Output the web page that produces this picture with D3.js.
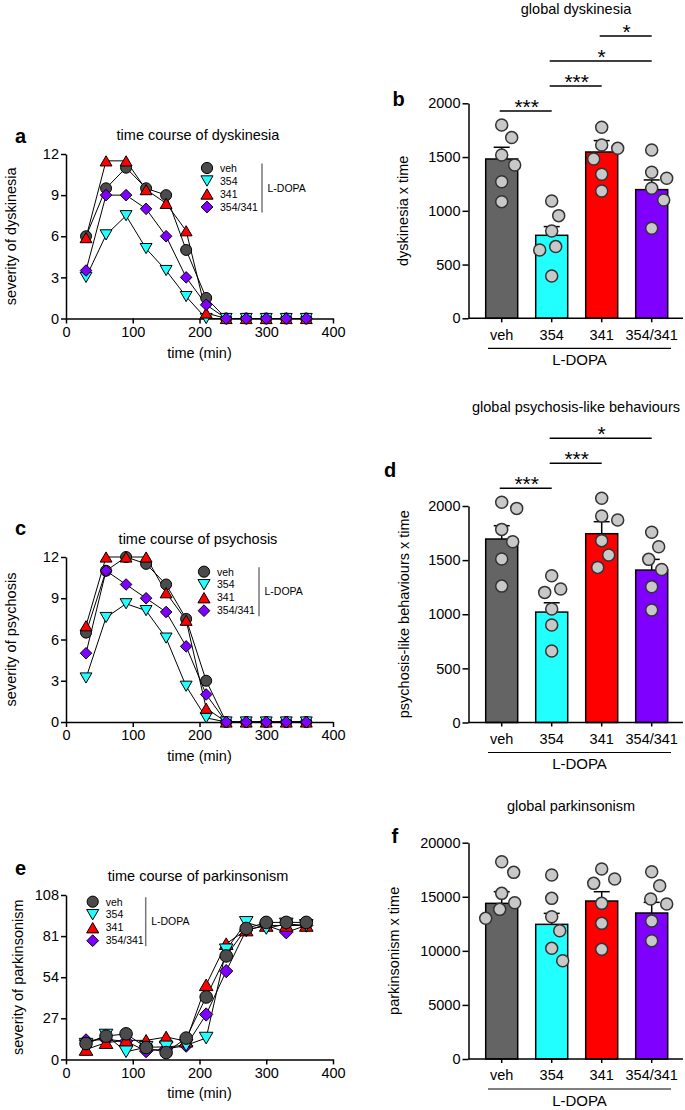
<!DOCTYPE html>
<html>
<head>
<meta charset="utf-8">
<script src="https://cdn.jsdelivr.net/npm/d3@7"></script>
<style>
  body { margin: 0; background: #fff; }
  svg { display: block; font-family: Arial, "Liberation Sans", Helvetica, sans-serif; }
  .axis path, .axis line { stroke: #000; stroke-width: 1.5; }
  .axis text { font-size: 14.5px; fill: #000; font-family: Arial, "Liberation Sans", sans-serif; }
</style>
</head>
<body>
<div id="chart"></div>
<script>
// treatment groups (all on L-DOPA)
const groups = ["veh", "354", "341", "354/341"];
const times = [30, 60, 90, 120, 150, 180, 210, 240, 270, 300, 330, 360];

// time course of dyskinesia
const dyskVeh = [6, 9.5, 11, 9.5, 9, 5, 1.5, 0, 0, 0, 0, 0];
const dysk354 = [3, 6.1, 7.5, 5.1, 3.5, 1.6, 0, 0, 0, 0, 0, 0];
const dysk341 = [5.9, 11.5, 11.5, 9.4, 8.4, 6.4, 0.4, 0, 0, 0, 0, 0];
const dyskCombo = [3.5, 9, 9, 8, 6, 3, 1, 0, 0, 0, 0, 0];

// time course of psychosis
const psyVeh = [6.5, 11, 12, 11.5, 10, 7.5, 3, 0, 0, 0, 0, 0];
const psy354 = [3.2, 7.6, 8.6, 8.1, 6.1, 2.6, 0.3, 0, 0, 0, 0, 0];
const psy341 = [7, 12, 12, 12, 9.4, 7.4, 1, 0, 0, 0, 0, 0];
const psyCombo = [5, 11, 10, 9, 8, 5.5, 2, 0, 0, 0, 0, 0];

// time course of parkinsonism
const parkVeh = [10.4, 15.3, 16.8, 7.8, 4.5, 14, 41, 68, 86, 90, 90, 90];
const park354 = [10, 16, 5, 8, 8.2, 9.3, 14, 72, 90, 86, 89, 88];
const park341 = [6.5, 11, 12.5, 12.5, 14.7, 12, 49, 76, 85, 88, 88, 88];
const parkCombo = [12.5, 13, 12, 5.4, 7, 9, 29.5, 58, 85, 88, 83.5, 88];

// global scores: mean, SEM and individual animals
const dyskMean = [1482, 772, 1547, 1197];
const dyskSem = [109, 81, 106, 90];
const dyskPoints = [
  [1798, 1681, 1519, 1426, 1271, 1085],
  [1091, 955, 812, 667, 636, 394],
  [1777, 1612, 1581, 1482, 1340, 1184],
  [1566, 1358, 1302, 1209, 1101, 837]
];
const dyskSig = [["veh", "354", "***"], ["354", "341", "***"], ["354", "354/341", "*"], ["341", "354/341", "*"]];

const psyMean = [1695, 1020, 1744, 1408];
const psySem = [123, 86, 111, 99];
const psyPoints = [
  [2034, 1978, 1784, 1670, 1510, 1260],
  [1356, 1233, 1202, 1048, 900, 660],
  [2071, 1908, 1871, 1680, 1547, 1433],
  [1757, 1624, 1507, 1414, 1254, 1039]
];
const psySig = [["veh", "354", "***"], ["354", "341", "***"], ["354", "354/341", "*"]];

const parkMean = [14392, 12450, 14607, 13498];
const parkSem = [1078, 1017, 863, 986];
const parkPoints = [
  [18243, 17257, 15316, 14453, 13837, 13005],
  [17010, 14853, 13159, 11864, 10231, 9091],
  [17565, 16641, 16240, 14391, 12542, 10139],
  [17319, 16025, 14792, 14330, 12758, 10940]
];
const parkSig = [];

// styles
const markerFill = ["#4b4b4b", "#22ffff", "#ff0000", "#7f00ff"];
const barFill = ["#646464", "#22ffff", "#ff0000", "#7f00ff"];
const markerType = ["circle", "down", "up", "diamond"];

const svg = d3.select("#chart").append("svg")
  .attr("width", 685)
  .attr("height", 1110);

// draw one marker shape at (0,0)
function marker(g, type, fill, r) {
  if (type === "circle") {
    g.append("circle").attr("r", r);
  } else if (type === "down") {
    const w = r * 1.08, h = r * 1.85;
    g.append("path").attr("d", `M${-w},${-h / 2}L${w},${-h / 2}L0,${h / 2}Z`);
  } else if (type === "up") {
    const w = r * 1.08, h = r * 1.85;
    g.append("path").attr("d", `M${-w},${h / 2}L${w},${h / 2}L0,${-h / 2}Z`);
  } else {
    const s = r * 1.05;
    g.append("path").attr("d", `M0,${-s}L${s},0L0,${s}L${-s},0Z`);
  }
  g.selectAll("circle,path").attr("fill", fill).attr("stroke", "#000").attr("stroke-width", 1);
}

function panelLetter(letter, x, y) {
  svg.append("text").attr("x", x).attr("y", y)
    .attr("font-size", 20).attr("font-weight", "bold").text(letter);
}

function yLabel(txt, x, yc, size) {
  svg.append("text")
    .attr("transform", `translate(${x},${yc}) rotate(-90)`)
    .attr("text-anchor", "middle")
    .attr("font-size", size || 14.5)
    .text(txt);
}

// time course panels
function linePanel(cfg) {
  const g = svg.append("g");
  const x = d3.scaleLinear().domain([0, 400]).range([66, 333]);
  const y = d3.scaleLinear().domain([0, cfg.yMax]).range([cfg.y0, cfg.y1]);

  g.append("g").attr("class", "axis").attr("transform", `translate(0,${cfg.y0})`)
    .call(d3.axisBottom(x).tickValues([0, 100, 200, 300, 400]).tickFormat(d3.format("d"))
      .tickSize(5).tickPadding(3).tickSizeOuter(0));
  g.append("g").attr("class", "axis").attr("transform", "translate(66,0)")
    .call(d3.axisLeft(y).tickValues(cfg.ticks).tickFormat(d3.format("d"))
      .tickSize(5).tickPadding(2).tickSizeOuter(0));

  const line = d3.line().x((d, j) => x(times[j])).y(d => y(d));
  cfg.order.forEach(i => {
    g.append("path").datum(cfg.series[i]).attr("d", line)
      .attr("fill", "none").attr("stroke", "#000").attr("stroke-width", 1);
  });
  cfg.order.forEach(i => {
    cfg.series[i].forEach((v, j) => {
      const m = g.append("g").attr("transform", `translate(${x(times[j])},${y(v)})`);
      marker(m, markerType[i], markerFill[i], cfg.r);
    });
  });

  // title and labels
  svg.append("text").attr("x", 198).attr("y", cfg.titleY).attr("text-anchor", "middle")
    .attr("font-size", 14.5).text(cfg.title);
  svg.append("text").attr("x", 199.5).attr("y", cfg.y0 + 39).attr("text-anchor", "middle")
    .attr("font-size", 14.5).text("time (min)");
  yLabel(cfg.ylabel, cfg.ylabelX, (cfg.y0 + cfg.y1) / 2);
  panelLetter(cfg.letter, 15, cfg.letterY);

  // legend
  const lg = svg.append("g").attr("transform", `translate(${cfg.legX},${cfg.legY})`);
  groups.forEach((name, i) => {
    const m = lg.append("g").attr("transform", `translate(0,${i * 13})`);
    marker(m, markerType[i], markerFill[i], 5.6);
    lg.append("text").attr("x", 13).attr("y", i * 13 + 3.8)
      .attr("font-size", 10.5).text(name);
  });
  lg.append("line").attr("x1", cfg.legLine).attr("x2", cfg.legLine)
    .attr("y1", -4.5).attr("y2", 44.5).attr("stroke", "#777").attr("stroke-width", 1.5);
  lg.append("text").attr("x", cfg.legLine + 5.5).attr("y", 23.5)
    .attr("font-size", 10.5).text("L-DOPA");
}

// spread the dots of one bar so they do not overlap
function swarm(vals, y, r) {
  const placed = [];
  const pts = vals.map(v => ({ v, py: y(v), dx: 0 })).sort((a, b) => a.py - b.py);
  pts.forEach(p => {
    for (let k = 0; k < 60; k++) {
      const dx = k === 0 ? 0 : (k % 2 ? 1 : -1) * Math.ceil(k / 2);
      if (placed.every(q => Math.hypot(q.dx - dx, q.py - p.py) >= 2 * r + 4)) { p.dx = dx; break; }
    }
    placed.push(p);
  });
  return pts;
}

// global score panels
function barPanel(cfg) {
  const g = svg.append("g");
  const x = d3.scaleBand().domain(groups).range([476.7, 676.7]).paddingInner(0.36).paddingOuter(0.18);
  const y = d3.scaleLinear().domain([0, cfg.yMax]).range([cfg.y0, cfg.y1]);
  const bw = x.bandwidth();

  g.selectAll("rect.bar").data(groups).join("rect").attr("class", "bar")
    .attr("x", d => x(d)).attr("width", bw)
    .attr("y", (d, i) => y(cfg.mean[i])).attr("height", (d, i) => cfg.y0 - y(cfg.mean[i]))
    .attr("fill", (d, i) => barFill[i]).attr("stroke", "#000").attr("stroke-width", 1.5);

  // error bars, upper half only
  groups.forEach((d, i) => {
    const cx = x(d) + bw / 2;
    const top = y(cfg.mean[i] + cfg.sem[i]);
    g.append("line").attr("x1", cx).attr("x2", cx).attr("y1", y(cfg.mean[i])).attr("y2", top)
      .attr("stroke", "#000").attr("stroke-width", 1.5);
    g.append("line").attr("x1", cx - 8).attr("x2", cx + 8).attr("y1", top).attr("y2", top)
      .attr("stroke", "#000").attr("stroke-width", 1.5);
  });

  // axes
  g.append("g").attr("class", "axis").attr("transform", "translate(468.5,0)")
    .call(d3.axisLeft(y).tickValues(cfg.ticks).tickFormat(d3.format("d"))
      .tickSize(6).tickPadding(2).tickSizeOuter(0));
  const xa = g.append("g").attr("class", "axis").attr("transform", `translate(0,${cfg.y0})`)
    .call(d3.axisBottom(x).tickSize(4).tickPadding(7).tickSizeOuter(0));
  xa.select(".domain").remove();
  xa.append("line").attr("x1", 468.5).attr("x2", 683).attr("stroke", "#000").attr("stroke-width", 1.5);
  xa.selectAll("text").attr("font-size", 15);

  // individual animals
  const r = 6;
  groups.forEach((d, i) => {
    const cx = x(d) + bw / 2;
    swarm(cfg.points[i], y, r).forEach(p => {
      g.append("circle").attr("cx", cx + p.dx).attr("cy", p.py).attr("r", r)
        .attr("fill", "#c8c8c8").attr("stroke", "#333").attr("stroke-width", 1.5);
    });
  });

  // L-DOPA bracket
  const lx0 = x(groups[0]) + 2.3, lx1 = x(groups[3]) + bw + 3.3;
  g.append("line").attr("x1", lx0).attr("x2", lx1).attr("y1", cfg.y0 + 30).attr("y2", cfg.y0 + 30)
    .attr("stroke", "#000").attr("stroke-width", 1.2);
  g.append("text").attr("x", (lx0 + lx1) / 2).attr("y", cfg.y0 + 46.5).attr("text-anchor", "middle")
    .attr("font-size", 15).text("L-DOPA");

  // significance brackets
  if (cfg.sig.length) {
    const first = cfg.sig[0];
    const top = d3.max([...cfg.points[groups.indexOf(first[0])], ...cfg.points[groups.indexOf(first[1])]]);
    const base = y(top) - 14;
    cfg.sig.forEach((s, k) => {
      const ly = base - 25 * k;
      const a = x(s[0]) + bw / 2, b = x(s[1]) + bw / 2;
      g.append("line").attr("x1", a - 2).attr("x2", b).attr("y1", ly).attr("y2", ly)
        .attr("stroke", "#000").attr("stroke-width", 1.5);
      g.append("text").attr("x", (a + b) / 2).attr("y", ly + 3).attr("text-anchor", "middle")
        .attr("font-size", 21).text(s[2]);
    });
  }

  svg.append("text").attr("x", cfg.titleX).attr("y", cfg.titleY).attr("text-anchor", "middle")
    .attr("font-size", 14.5).text(cfg.title);
  yLabel(cfg.ylabel, cfg.ylabelX, (cfg.y0 + cfg.y1) / 2);
  panelLetter(cfg.letter, cfg.letterX, cfg.letterY);
}

linePanel({
  series: [dyskVeh, dysk354, dysk341, dyskCombo], order: [0, 1, 2, 3],
  yMax: 12, ticks: [0, 3, 6, 9, 12], y0: 318.5, y1: 154, r: 5.5,
  title: "time course of dyskinesia", titleY: 139.5, ylabel: "severity of dyskinesia", ylabelX: 16,
  letter: "a", letterY: 143, legX: 207, legY: 168, legLine: 55
});
linePanel({
  series: [psyVeh, psy354, psy341, psyCombo], order: [0, 1, 2, 3],
  yMax: 12, ticks: [0, 3, 6, 9, 12], y0: 722, y1: 557, r: 5.5,
  title: "time course of psychosis", titleY: 543.5, ylabel: "severity of psychosis", ylabelX: 16,
  letter: "c", letterY: 535, legX: 204, legY: 571.7, legLine: 55
});
linePanel({
  series: [parkVeh, park354, park341, parkCombo], order: [3, 2, 1, 0],
  yMax: 108, ticks: [0, 27, 54, 81, 108], y0: 1059.4, y1: 895, r: 6.3,
  title: "time course of parkinsonism", titleY: 881, ylabel: "severity of parkinsonism", ylabelX: 23,
  letter: "e", letterY: 875, legX: 92.7, legY: 901.7, legLine: 53
});

barPanel({
  mean: dyskMean, sem: dyskSem, points: dyskPoints, sig: dyskSig,
  yMax: 2000, ticks: [0, 500, 1000, 1500, 2000], y0: 318.3, y1: 103.3,
  title: "global dyskinesia", titleX: 576, titleY: 14, ylabel: "dyskinesia x time", ylabelX: 407.5,
  letter: "b", letterX: 392.5, letterY: 106
});
barPanel({
  mean: psyMean, sem: psySem, points: psyPoints, sig: psySig,
  yMax: 2000, ticks: [0, 500, 1000, 1500, 2000], y0: 722.5, y1: 506,
  title: "global psychosis-like behaviours", titleX: 576, titleY: 412, ylabel: "psychosis-like behaviours x time", ylabelX: 408.5,
  letter: "d", letterX: 384, letterY: 477
});
barPanel({
  mean: parkMean, sem: parkSem, points: parkPoints, sig: parkSig,
  yMax: 20000, ticks: [0, 5000, 10000, 15000, 20000], y0: 1059, y1: 842.7,
  title: "global parkinsonism", titleX: 571, titleY: 811, ylabel: "parkinsonism x time", ylabelX: 398.5,
  letter: "f", letterX: 391.5, letterY: 843
});
</script>
</body>
</html>
